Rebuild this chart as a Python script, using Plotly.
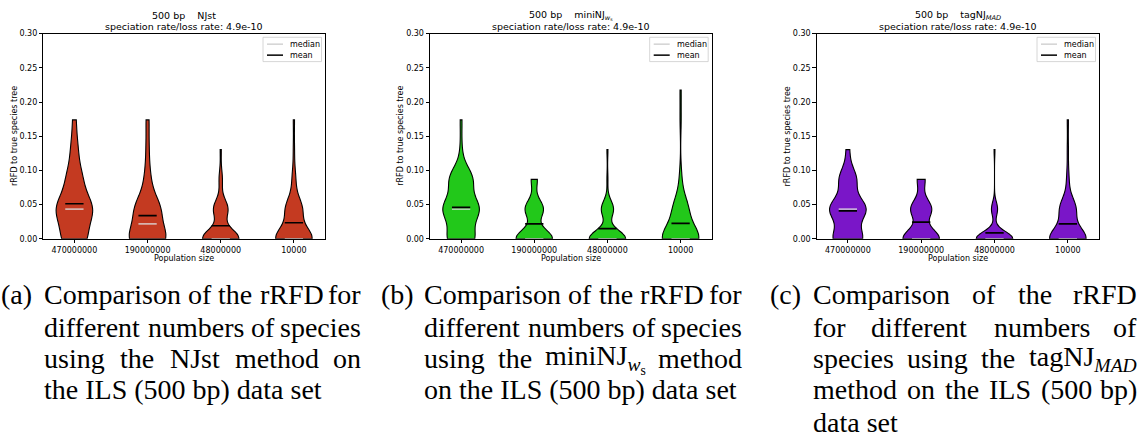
import re
import numpy as np
import plotly.graph_objects as go

# ---------------- data ----------------
population_sizes = ["470000000", "190000000", "48000000", "10000"]
rrfd_levels = [0.0, 0.0435, 0.0870, 0.1304, 0.1739, 0.2174]

# number of replicates at each rRFD level, one row per population size
njst_counts = [
    [14, 21, 9, 4, 2, 0],
    [25, 17, 4, 2, 2, 0],
    [33, 13, 3, 1, 0, 0],
    [31, 14, 3, 1, 1, 0],
]
mininj_counts = [
    [15, 20, 13, 1, 1, 0],
    [30, 15, 5, 0, 0, 0],
    [36, 12, 1, 1, 0, 0],
    [33, 13, 2, 0, 1, 1],
]
tagnj_counts = [
    [17, 21, 10, 2, 0, 0],
    [28, 16, 6, 0, 0, 0],
    [42, 7, 0, 1, 0, 0],
    [32, 14, 2, 1, 1, 0],
]
method_names = ["NJst", "miniNJ<sub><i>w</i><sub>s</sub></sub>", "tagNJ<sub><i>MAD</i></sub>"]
subtitle = "speciation rate/loss rate: 4.9e-10"
y_ticks = [0.0, 0.05, 0.10, 0.15, 0.20, 0.25, 0.30]
x_label = "Population size"
y_label = "rRFD to true species tree"

caption_labels = ["(a)", "(b)", "(c)"]
caption_lines = [
    ["Comparison of the rRFD for",
     "different numbers of species",
     "using the NJst method on",
     "the ILS (500 bp) data set"],
    ["Comparison of the rRFD for",
     "different numbers of species",
     "using the miniNJ<sub><i>w</i><sub>s</sub></sub> method",
     "on the ILS (500 bp) data set"],
    ["Comparison of the rRFD",
     "for different numbers of",
     "species using the tagNJ<sub><i>MAD</i></sub>",
     "method on the ILS (500 bp)",
     "data set"],
]

# ---------------- layout helpers ----------------
W, H = 1142, 443
def px(x):
    return x / W
def py(y):
    return 1 - y / H

panel_x = [(43.3, 325.0), (430.0, 711.7), (816.7, 1099.0)]
plot_top, plot_bottom = 30.3, 239.7
colors = ["#c43a21", "#22c81a", "#7a16c8"]
median_color = "rgba(222,222,222,0.75)"
TICKFONT = dict(family="DejaVu Sans", size=8, color="black")

fig = go.Figure()
annotations = []
shapes = []

all_counts = [njst_counts, mininj_counts, tagnj_counts]
for p, counts in enumerate(all_counts):
    sfx = "" if p == 0 else str(p + 1)
    xa, ya = "x" + sfx, "y" + sfx
    means, medians = [], []
    for i, c in enumerate(counts):
        samples = np.repeat(rrfd_levels, c)
        n = len(samples)
        bw = np.std(samples, ddof=1) * n ** (-0.2)  # Scott's rule
        means.append(float(np.mean(samples)))
        medians.append(float(np.median(samples)))
        fig.add_trace(go.Violin(
            y=samples, x0=i + 1, xaxis=xa, yaxis=ya,
            width=0.5, spanmode="hard", bandwidth=bw, scalemode="width",
            fillcolor=colors[p], opacity=1,
            line=dict(color="black", width=1.1),
            points=False, box_visible=False, meanline_visible=False,
            showlegend=False, hoverinfo="skip", name=population_sizes[i]))
    for stat, col in ((medians, median_color), (means, "black")):
        xs, ys = [], []
        for i, v in enumerate(stat):
            xs += [i + 1 - 0.125, i + 1 + 0.125, None]
            ys += [v, v, None]
        fig.add_trace(go.Scatter(x=xs, y=ys, mode="lines", xaxis=xa, yaxis=ya,
                                 line=dict(color=col, width=1.7),
                                 showlegend=False, hoverinfo="skip"))
    x0, x1 = panel_x[p]
    fig.layout["xaxis" + sfx] = dict(
        domain=[px(x0), px(x1)], anchor=ya, range=[0.575, 4.425],
        tickvals=[1, 2, 3, 4], ticktext=population_sizes,
        ticks="outside", ticklen=3.5, tickwidth=0.8, tickcolor="black",
        showline=True, mirror=True, linecolor="black", linewidth=0.9,
        showgrid=False, zeroline=False, tickfont=TICKFONT)
    fig.layout["yaxis" + sfx] = dict(
        domain=[py(plot_bottom), py(plot_top)], anchor=xa, range=[0, 0.3],
        tickvals=y_ticks, tickformat=".2f",
        ticks="outside", ticklen=3.5, tickwidth=0.8, tickcolor="black",
        showline=True, mirror=True, linecolor="black", linewidth=0.9,
        showgrid=False, zeroline=False, tickfont=TICKFONT)
    cx = (x0 + x1) / 2
    annotations.append(dict(x=px(cx), y=py(12.0), xanchor="center",
                            text="500 bp\u00a0\u00a0\u00a0\u00a0" + method_names[p],
                            font=dict(family="DejaVu Sans", size=9.5, color="black")))
    annotations.append(dict(x=px(cx), y=py(23.0), xanchor="center", text=subtitle,
                            font=dict(family="DejaVu Sans", size=9.5, color="black")))
    annotations.append(dict(x=px(cx), y=py(259.3), xanchor="center", text=x_label,
                            font=dict(family="DejaVu Sans", size=8, color="black")))
    annotations.append(dict(x=px(x0 - 29.5), y=py((plot_top + plot_bottom) / 2), xanchor="center",
                            text=y_label, textangle=-90,
                            font=dict(family="DejaVu Sans", size=8, color="black")))
    # legend box
    bx1 = x1 - 3.5
    bx0 = bx1 - 58.5
    by0, by1 = plot_top + 3.7, plot_top + 28.5
    shapes.append(dict(type="rect", xref="paper", yref="paper",
                       x0=px(bx0), x1=px(bx1), y0=py(by1), y1=py(by0),
                       fillcolor="rgba(255,255,255,0.85)", line=dict(color="#cccccc", width=0.8)))
    for j, (lab, col) in enumerate((("median", "#d3d3d3"), ("mean", "black"))):
        ly = plot_top + 10.7 + j * 11.2
        shapes.append(dict(type="line", xref="paper", yref="paper",
                           x0=px(bx0 + 4), x1=px(bx0 + 20), y0=py(ly), y1=py(ly),
                           line=dict(color=col, width=1.5)))
        annotations.append(dict(x=px(bx0 + 25), y=py(ly), text=lab, xanchor="left",
                                font=dict(family="DejaVu Sans", size=8, color="black")))

# ---------------- captions (justified like LaTeX) ----------------
CAP_SIZE = 28
CAP = dict(family="Liberation Serif", size=CAP_SIZE, color="black")
TIMES_W = {
    'a': 444, 'b': 500, 'c': 444, 'd': 500, 'e': 444, 'f': 333, 'g': 500, 'h': 500,
    'i': 278, 'm': 778, 'n': 500, 'o': 500, 'p': 500, 'r': 333, 's': 389, 't': 278,
    'u': 500, 'w': 667, 'A': 722, 'C': 667, 'D': 722, 'F': 556, 'I': 333, 'J': 389,
    'L': 611, 'M': 833, 'N': 722, 'R': 667, 'S': 556, '0': 500, '5': 500, '(': 333,
    ')': 333, ' ': 250,
}

def text_width(s, size):
    depth, w = 0, 0.0
    for tok in re.findall(r"</?\w+>|.", s):
        if tok == "<sub>":
            depth += 1
        elif tok == "</sub>":
            depth -= 1
        elif tok.startswith("<"):
            continue
        else:
            w += TIMES_W.get(tok, 500) / 1000 * size * (0.7 ** depth)
    return w

def split_words(line):
    return re.findall(r"(?:<[^>]+>|[^\s<])+", line)

col_left = [43, 423, 812]
col_right = [362, 742.5, 1138]
line_y = [297, 330, 362, 394, 427]
for c in range(3):
    annotations.append(dict(x=px(col_left[c] - 43), y=py(line_y[0]), text=caption_labels[c],
                            xanchor="left", font=CAP, borderpad=0))
    lines = caption_lines[c]
    for li, line in enumerate(lines):
        words = split_words(line)
        last = li == len(lines) - 1
        if last:
            annotations.append(dict(x=px(col_left[c]), y=py(line_y[li]), text=line,
                                    xanchor="left", font=CAP, borderpad=0))
            continue
        widths = [text_width(wd, CAP_SIZE) for wd in words]
        gap = (col_right[c] - col_left[c] - sum(widths)) / (len(words) - 1)
        xpos = col_left[c]
        for k, wd in enumerate(words):
            if k == len(words) - 1:
                annotations.append(dict(x=px(col_right[c]), y=py(line_y[li]), text=wd,
                                        xanchor="right", font=CAP, borderpad=0))
            else:
                annotations.append(dict(x=px(xpos), y=py(line_y[li]), text=wd,
                                        xanchor="left", font=CAP, borderpad=0))
            xpos += widths[k] + gap

for a in annotations:
    a.setdefault("xref", "paper")
    a.setdefault("yref", "paper")
    a.setdefault("showarrow", False)
    a.setdefault("yanchor", "middle")

fig.update_layout(
    width=W, height=H, margin=dict(l=0, r=0, t=0, b=0),
    paper_bgcolor="white", plot_bgcolor="white",
    violinmode="overlay", showlegend=False,
    annotations=annotations, shapes=shapes,
)
fig.write_html("out.html")
